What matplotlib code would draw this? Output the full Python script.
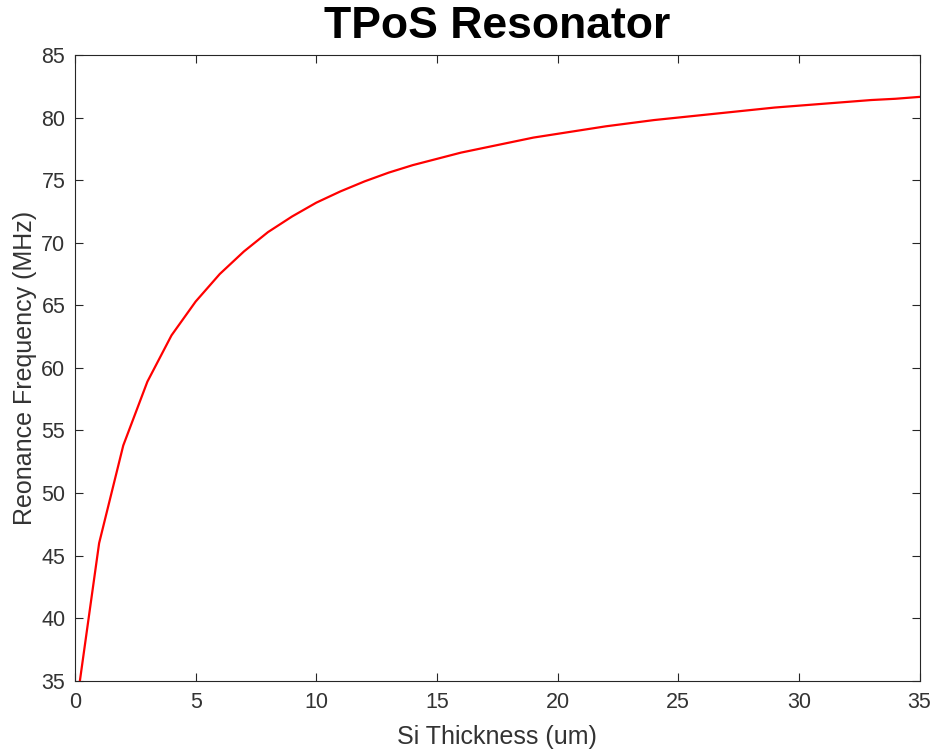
import matplotlib
matplotlib.use("Agg")
import matplotlib.pyplot as plt
import numpy as np

# Si thickness (um) and resonance frequency (MHz)
thickness = np.arange(0, 36)
frequency = [32.2, 46.0, 53.8, 58.9, 62.6, 65.3, 67.5, 69.3, 70.85, 72.1,
             73.2, 74.1, 74.9, 75.6, 76.2, 76.7, 77.2, 77.6, 78.0, 78.4,
             78.7, 79.0, 79.3, 79.55, 79.8, 80.0, 80.2, 80.4, 80.6, 80.8,
             80.95, 81.1, 81.25, 81.4, 81.5, 81.65]

plt.rcParams['font.family'] = ['Liberation Sans', 'DejaVu Sans']
axis_color = '#262626'
label_color = '#333333'

fig = plt.figure(figsize=(9.34, 7.52), dpi=100)
ax = fig.add_axes([0.0803, 0.0947, 0.9042, 0.8322])

ax.plot(thickness, frequency, color='red', linewidth=1.6)

ax.set_xlim(0, 35)
ax.set_ylim(35, 85)
ax.set_xticks(np.arange(0, 36, 5))
ax.set_yticks(np.arange(35, 86, 5))

ax.tick_params(direction='in', length=6, width=0.8, top=True, right=True,
               colors=axis_color, labelsize=15.5, labelcolor=label_color)
ax.tick_params(axis='x', pad=8)
ax.tick_params(axis='y', pad=7)
for spine in ax.spines.values():
    spine.set_color(axis_color)
    spine.set_linewidth(0.8)

ax.set_xlabel('Si Thickness (um)', fontsize=18, color=label_color, labelpad=9)
ax.set_ylabel('Reonance Frequency (MHz)', fontsize=18, color=label_color, labelpad=3)
ax.set_title('TPoS Resonator', fontsize=32, fontweight='bold', pad=12)

fig.savefig('out.png', dpi=100)
